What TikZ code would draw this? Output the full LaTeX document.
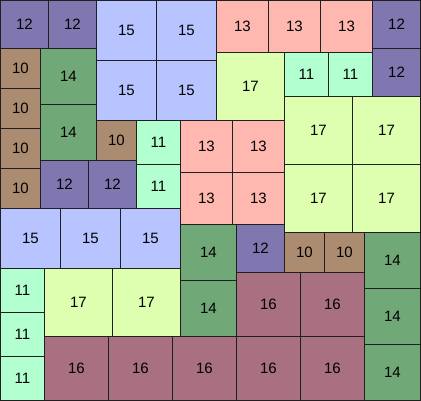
\documentclass[tikz,border=0pt]{standalone}
\usepackage{fontspec}
\setmainfont{Liberation Sans}
\definecolor{c10}{RGB}{172,140,112}
\definecolor{c11}{RGB}{178,255,208}
\definecolor{c12}{RGB}{128,119,176}
\definecolor{c13}{RGB}{255,184,176}
\definecolor{c14}{RGB}{112,168,120}
\definecolor{c15}{RGB}{184,196,255}
\definecolor{c16}{RGB}{168,112,128}
\definecolor{c17}{RGB}{222,255,176}
\definecolor{edge}{RGB}{32,32,32}
\tikzset{sq/.style={draw=edge, line width=1pt, inner sep=0pt, outer sep=0pt, font=\fontsize{15}{15}\selectfont, text=black}}
\begin{document}
\begin{tikzpicture}[x=1pt,y=-1pt]
\useasboundingbox (0,0) rectangle (421,401);
\foreach \x/\y/\n [count=\i] in {
  0/0/12, 48/0/12, 96/0/15, 156/0/15, 96/60/15, 156/60/15,
  216/0/13, 268/0/13, 320/0/13, 372/0/12, 372/48/12,
  0/48/10, 0/88/10, 0/128/10, 0/168/10,
  40/48/14, 40/104/14, 96/120/10, 40/160/12, 88/160/12,
  136/120/11, 136/164/11,
  180/120/13, 232/120/13, 180/172/13, 232/172/13,
  216/52/17, 284/52/11, 328/52/11,
  284/96/17, 352/96/17, 284/164/17, 352/164/17,
  0/208/15, 60/208/15, 120/208/15,
  180/224/14, 180/280/14, 236/224/12,
  284/232/10, 324/232/10,
  364/232/14, 364/288/14, 364/344/14,
  236/272/16, 300/272/16,
  0/268/11, 0/312/11, 0/356/11,
  44/268/17, 112/268/17,
  44/336/16, 108/336/16, 172/336/16, 236/336/16, 300/336/16}
{
  \pgfmathsetmacro\s{4*\n}
  \node[sq, fill=c\n, minimum size=\s pt] (s\i) at ({\x+0.5+2*\n},{\y+0.5+2*\n}) {\n};
}
\end{tikzpicture}
\end{document}
